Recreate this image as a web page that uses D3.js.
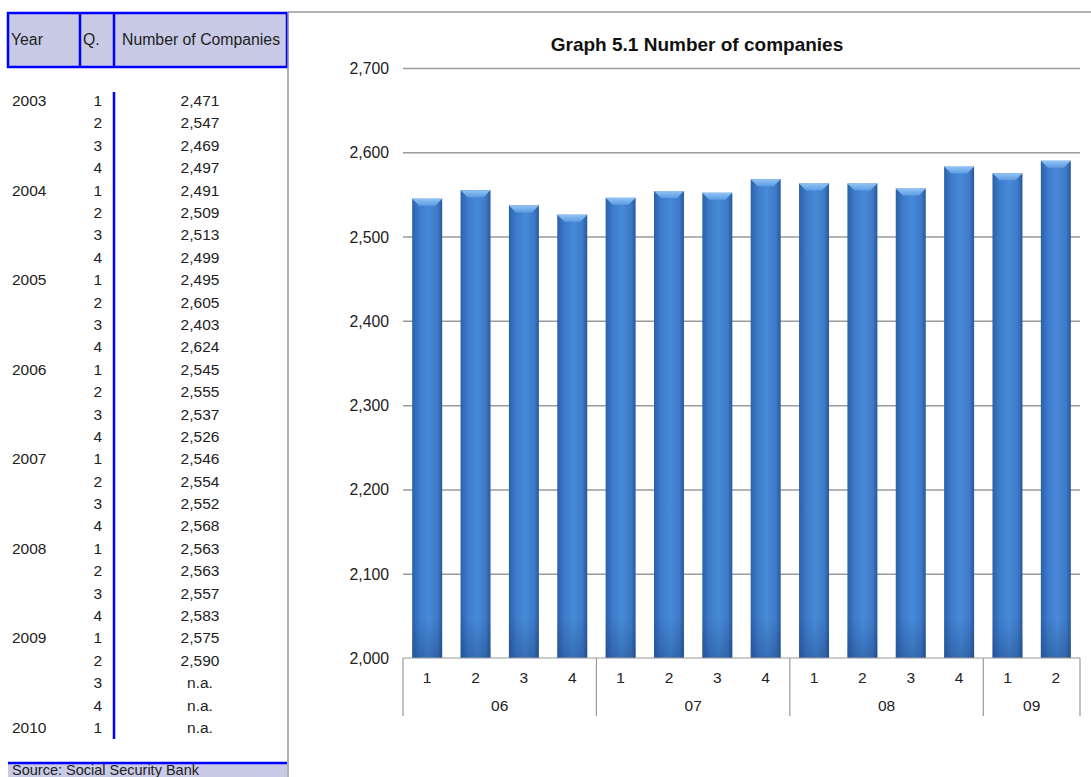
<!DOCTYPE html>
<html><head><meta charset="utf-8">
<script src="https://cdn.jsdelivr.net/npm/d3@7"></script>
<style>body{margin:0;background:#fff}svg{display:block;font-family:"Liberation Sans",Arial,sans-serif}</style>
</head><body><svg id="c" width="1091" height="777"></svg>
<script>
// ---- table data ----
const tableYears    = ["2003","","","","2004","","","","2005","","","","2006","","","","2007","","","","2008","","","","2009","","","","2010"];
const tableQuarters = [1,2,3,4,1,2,3,4,1,2,3,4,1,2,3,4,1,2,3,4,1,2,3,4,1,2,3,4,1];
const tableCompanies= ["2,471","2,547","2,469","2,497","2,491","2,509","2,513","2,499","2,495","2,605","2,403","2,624","2,545","2,555","2,537","2,526","2,546","2,554","2,552","2,568","2,563","2,563","2,557","2,583","2,575","2,590","n.a.","n.a.","n.a."];
// ---- chart data ----
const chartQuarters = ["1","2","3","4","1","2","3","4","1","2","3","4","1","2"];
const chartYears    = ["06","06","06","06","07","07","07","07","08","08","08","08","09","09"];
const chartValues   = [2545,2555,2537,2526,2546,2554,2552,2568,2563,2563,2557,2583,2575,2590];
const yTicks        = [2000,2100,2200,2300,2400,2500,2600,2700];
const chartTitle    = "Graph 5.1 Number of companies";

const svg = d3.select("#c");
const blue = "#0000ff", lav = "#c8cae6";
const FS = 15.5;

// ---------- Left table ----------
svg.append("rect").attr("x",8).attr("y",13).attr("width",279).attr("height",54).attr("fill",lav).attr("stroke",blue).attr("stroke-width",2.5);
[80,114].forEach(x=>svg.append("line").attr("x1",x).attr("x2",x).attr("y1",13).attr("y2",67).attr("stroke",blue).attr("stroke-width",2.5));
const hdr = svg.append("g").attr("font-size",15.8).attr("fill","#222");
hdr.append("text").attr("x",11).attr("y",45).text("Year");
hdr.append("text").attr("x",83).attr("y",45).text("Q.");
hdr.append("text").attr("x",122).attr("y",45).text("Number of Companies");

const rowY = d3.scaleLinear().domain([0,28]).range([106,733]);
const tb = svg.append("g").attr("font-size",FS).attr("fill","#222");
tableQuarters.forEach((q,i)=>{
  const y = rowY(i);
  if(tableYears[i]) tb.append("text").attr("x",12).attr("y",y).text(tableYears[i]);
  tb.append("text").attr("x",102).attr("y",y).attr("text-anchor","end").text(q);
  tb.append("text").attr("x",200).attr("y",y).attr("text-anchor","middle").text(tableCompanies[i]);
});
svg.append("line").attr("x1",114).attr("x2",114).attr("y1",92).attr("y2",739).attr("stroke",blue).attr("stroke-width",2.5);

// source box
svg.append("rect").attr("x",8).attr("y",763).attr("width",279).attr("height",20).attr("fill",lav);
svg.append("line").attr("x1",8).attr("x2",287).attr("y1",763).attr("y2",763).attr("stroke",blue).attr("stroke-width",2.5);
svg.append("text").attr("x",12).attr("y",775).attr("font-size",14.5).attr("fill","#222").text("Source: Social Security Bank");

// panel borders
svg.append("line").attr("x1",288).attr("x2",288).attr("y1",12).attr("y2",777).attr("stroke","#999").attr("stroke-width",1.5);
svg.append("line").attr("x1",288).attr("x2",1091).attr("y1",12).attr("y2",12).attr("stroke","#999").attr("stroke-width",1.5);

// ---------- Chart ----------
const x0 = 403, x1 = 1080, yTop = 68, yBot = 658;
const y = d3.scaleLinear().domain([2000,2700]).range([yBot,yTop]);
const x = d3.scaleBand().domain(d3.range(chartValues.length)).range([x0,x1]).paddingInner(0.38).paddingOuter(0.19);
const step = (x1-x0)/chartValues.length;

svg.append("text").attr("x",697).attr("y",51).attr("text-anchor","middle").attr("font-size",19).attr("font-weight","bold").attr("fill","#111").text(chartTitle);

// gridlines
const ya = d3.axisLeft(y).tickValues(yTicks).tickSize(-(x1-x0)).tickFormat(d3.format(","));
const yg = svg.append("g").attr("transform",`translate(${x0},0)`).call(ya);
yg.select(".domain").remove();
yg.selectAll(".tick line").attr("stroke","#9a9a9a").attr("stroke-width",1.5);
yg.selectAll(".tick text").attr("x",-14).attr("dy","0.35em").attr("font-size",15.8).attr("fill","#222").attr("font-family","Liberation Sans, Arial, sans-serif");
yg.selectAll(".tick").filter(d=>d===2000).select("line").remove();

// gradients
const defs = svg.append("defs");
const g1 = defs.append("linearGradient").attr("id","barG").attr("x1","0").attr("x2","1").attr("y1","0").attr("y2","0");
[[0,"#2c60aa"],[0.25,"#3d7ccc"],[0.55,"#478ad8"],[0.85,"#3d79c6"],[1,"#26579e"]].forEach(([o,c])=>g1.append("stop").attr("offset",o).attr("stop-color",c));
const g2 = defs.append("linearGradient").attr("id","capG").attr("x1","0").attr("x2","0").attr("y1","0").attr("y2","1");
[[0,"#92c4f4"],[1,"#5c9ce2"]].forEach(([o,c])=>g2.append("stop").attr("offset",o).attr("stop-color",c));
const g3 = defs.append("linearGradient").attr("id","botG").attr("x1","0").attr("x2","0").attr("y1","0").attr("y2","1");
[[0,"rgba(20,50,100,0)"],[1,"rgba(20,50,100,0.3)"]].forEach(([o,c])=>g3.append("stop").attr("offset",o).attr("stop-color",c));

const bars = svg.append("g");
chartValues.forEach((v,i)=>{
  const bx = x(i), bw = x.bandwidth(), by = y(v), bh = yBot - by;
  bars.append("rect").attr("x",bx).attr("y",by).attr("width",bw).attr("height",bh).attr("fill","url(#barG)");
  bars.append("rect").attr("x",bx).attr("y",yBot-40).attr("width",bw).attr("height",40).attr("fill","url(#botG)");
  const c = 7;
  bars.append("path").attr("d",`M${bx},${by} L${bx+bw},${by} L${bx+bw-c},${by+c} L${bx+c},${by+c} Z`).attr("fill","url(#capG)");
});

// x axis
const ax = svg.append("g").attr("stroke","#999").attr("stroke-width",1.2);
ax.append("line").attr("x1",x0).attr("x2",x1).attr("y1",yBot).attr("y2",yBot);
const groups = [];
chartYears.forEach((yr,i)=>{ if(!groups.length || groups[groups.length-1].yr!==yr) groups.push({yr,start:i,end:i}); else groups[groups.length-1].end=i; });
const bounds = [x0, ...groups.map(g=>x0+(g.end+1)*step)];
bounds.forEach(b=>ax.append("line").attr("x1",b).attr("x2",b).attr("y1",yBot).attr("y2",716));
const xl = svg.append("g").attr("font-size",FS).attr("fill","#222").attr("text-anchor","middle");
chartQuarters.forEach((q,i)=>xl.append("text").attr("x",x(i)+x.bandwidth()/2).attr("y",683).text(q));
groups.forEach(g=>xl.append("text").attr("x",x0+(g.start+g.end+1)/2*step).attr("y",711).text(g.yr));
</script></body></html>
